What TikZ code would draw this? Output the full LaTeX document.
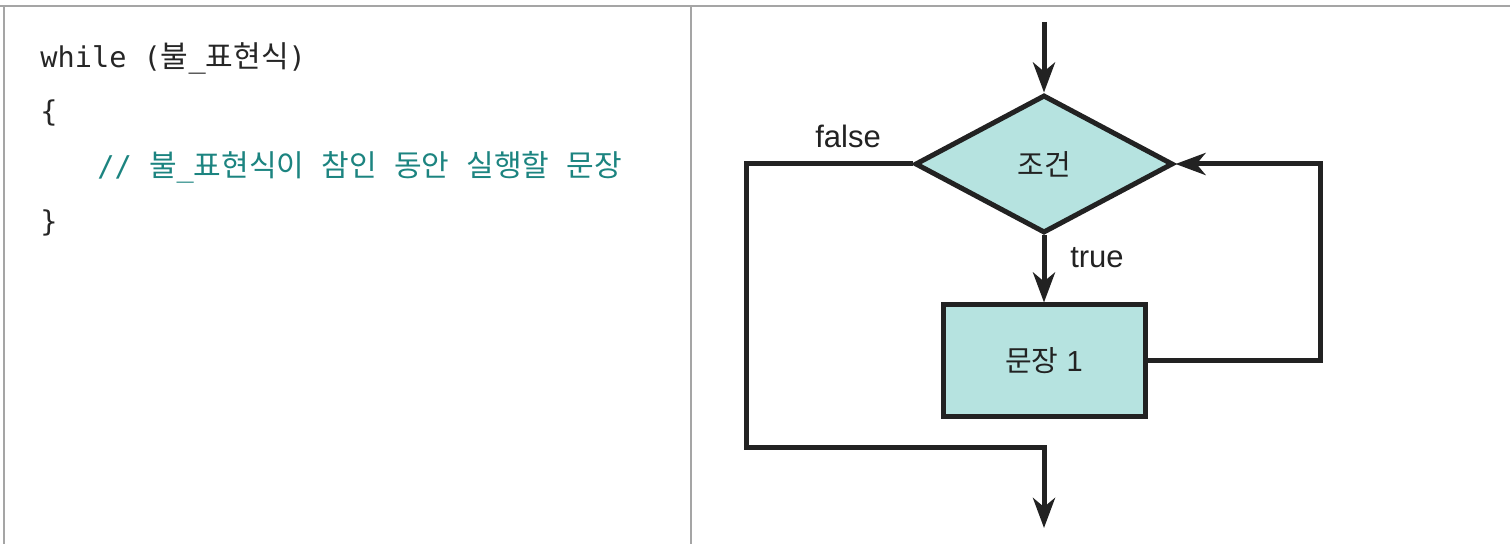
\documentclass[tikz,border=0pt]{standalone}
\usepackage{fontspec}
\setmainfont{Liberation Sans}
\setmonofont{DejaVu Sans Mono}
\newfontfamily\krfont{Noto Sans CJK KR}
\newfontfamily\krcode[Scale=1.05]{Noto Sans CJK KR}
\newcommand\kor[1]{{\krcode #1}}
\usetikzlibrary{shapes.geometric,arrows.meta}
\definecolor{boxfill}{RGB}{182,227,224}
\definecolor{linecol}{RGB}{34,34,34}
\definecolor{cmtcol}{RGB}{28,132,128}
\definecolor{framecol}{RGB}{165,165,165}
\begin{document}
\begin{tikzpicture}[x=0.5pt,y=-0.5pt,
  frame/.style={draw=framecol,line width=1pt},
  flow/.style={draw=linecol,line width=2.5pt},
  arr/.style={flow,-{Stealth[length=15pt,width=11pt,inset=4.5pt]}},
  decision/.style={diamond,draw=linecol,fill=boxfill,line width=2.5pt,
    minimum width=129pt,minimum height=69pt,inner sep=0pt,
    font=\krfont\fontsize{14.5}{16}\selectfont,text=linecol},
  stmtbox/.style={rectangle,draw=linecol,fill=boxfill,line width=2.5pt,
    minimum width=101pt,minimum height=56pt,inner sep=0pt,
    font=\fontsize{14.5}{16}\selectfont,text=linecol},
  lbl/.style={font=\fontsize{15.5}{17}\selectfont,text=linecol,inner sep=0pt},
  code/.style={anchor=base west,inner sep=0pt,font=\ttfamily\fontsize{14.3}{16}\selectfont,text=black!85}
]
\useasboundingbox (0,0) rectangle (1510,544);
% frame
\draw[frame] (0,6) -- (1510,6);
\draw[frame] (4,6) -- (4,544);
\draw[frame] (691,6) -- (691,544);

% code
\node[code] (c1) at (40,68) {while (\kor{불}\_\kor{표현식})};
\node[code] (c2) at (40,122) {\{};
\node[code,text=cmtcol] (c3) at (97,177) {// \kor{불}\_\kor{표현식이} \kor{참인} \kor{동안} \kor{실행할} \kor{문장}};
\node[code] (c4) at (40,232) {\}};

% flowchart
\coordinate (start) at (1044,22);
\node[decision] (cond) at (1044,164) {조건};
\node[stmtbox] (stmt) at (1044,361) {{\krfont 문장} 1};
\coordinate (rt) at (1320,164);
\coordinate (rb) at (1320,361);
\coordinate (lt) at (746,164);
\coordinate (lb) at (746,448);
\coordinate (mb) at (1044,448);
\coordinate (stop) at (1044,528);

\draw[arr] (start) -- (cond.north);
\draw[arr] (cond.south) -- (stmt.north);
\draw[arr] (stmt.east) -- (rb) -- (rt) -- (cond.east);
\draw[arr] (cond.west) -- (lt) -- (lb) -- (mb) -- (stop);

\node[lbl] (lf) at (848,136) {false};
\node[lbl] (lt2) at (1097,258) {true};
\end{tikzpicture}
\end{document}
